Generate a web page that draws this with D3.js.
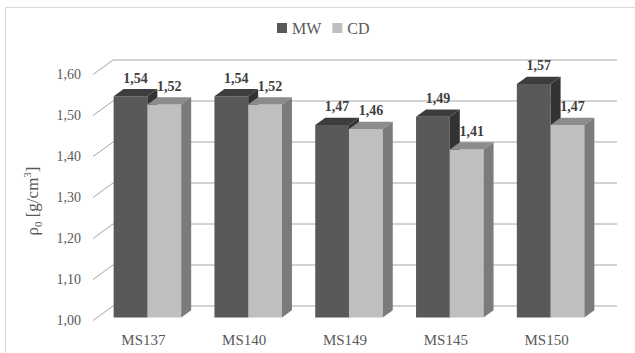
<!DOCTYPE html>
<html>
<head>
<meta charset="utf-8">
<script src="https://cdn.jsdelivr.net/npm/d3@7/dist/d3.min.js"></script>
<style>
  html, body { margin: 0; padding: 0; background: #ffffff; }
  svg { display: block; }
</style>
</head>
<body>
<svg id="chart" width="635" height="353" font-family="'Liberation Serif', Tinos, 'Times New Roman', 'DejaVu Serif', serif"></svg>
<script>
// Density per sample, two measuring methods
const categories = ["MS137", "MS140", "MS149", "MS145", "MS150"];
const seriesNames = ["MW", "CD"];
const mwValues = [1.54, 1.54, 1.47, 1.49, 1.57];
const cdValues = [1.52, 1.52, 1.46, 1.41, 1.47];
const yTicks = [1.00, 1.10, 1.20, 1.30, 1.40, 1.50, 1.60];

const seriesValues = { MW: mwValues, CD: cdValues };
const colors = {
  MW: { front: "#595959", top: "#3d3d3d", side: "#333333" },
  CD: { front: "#bfbfbf", top: "#8c8c8c", side: "#7b7b7b" }
};

const svg = d3.select("#chart");
const fmt = v => d3.format(".2f")(v).replace(".", ",");

// Oblique projection: depth z in [0,1] shifts right and up
const depth = { dx: 20, dy: -14.5 };
const proj = (x, y, z) => [x + depth.dx * z, y + depth.dy * z];
const zFront = 0.2, zBack = 0.7;

// Scales live in the front plane of the floor
const y = d3.scaleLinear().domain([1.0, 1.6]).range([320.5, 74.5]);
const x0 = d3.scaleBand().domain(categories).range([93, 597])
  .paddingInner(0.33).paddingOuter(0.165);
const x1 = d3.scaleBand().domain(seriesNames).range([0, x0.bandwidth()]);

// Outer chart frame
svg.append("rect")
  .attr("x", 5.5).attr("y", 7.5).attr("width", 660).attr("height", 400)
  .attr("fill", "none").attr("stroke", "#d9d9d9").attr("stroke-width", 1);

// Back-wall gridlines and the slanted side-wall ticks
const grid = svg.append("g").attr("stroke", "#a6a6a6").attr("stroke-width", 1).attr("fill", "none");
const xLeft = x0.range()[0], xRight = x0.range()[1];
yTicks.forEach(t => {
  const a = proj(xLeft, y(t), 0), b = proj(xLeft, y(t), 1), c = proj(xRight, y(t), 1);
  grid.append("path").attr("d", d3.line()([a, b, c]));
});

// Y tick labels
svg.append("g").selectAll("text").data(yTicks).join("text")
  .attr("x", 81).attr("y", d => y(d)).attr("dy", "0.35em")
  .attr("text-anchor", "end").attr("font-size", 14).attr("fill", "#595959")
  .text(d => fmt(d));

// Axis title
const title = svg.append("text")
  .attr("transform", "translate(38,201) rotate(-90)")
  .attr("text-anchor", "middle").attr("font-size", 17).attr("fill", "#595959");
title.append("tspan").text("ρ");
title.append("tspan").attr("font-size", 11).attr("dy", 4).text("0");
title.append("tspan").attr("dy", -4).text(" [g/cm");
title.append("tspan").attr("font-size", 11).attr("dy", -7).text("3");
title.append("tspan").attr("dy", 7).text("]");

// 3D bars
const bars = svg.append("g");
categories.forEach((cat, i) => {
  seriesNames.forEach(s => {
    const v = seriesValues[s][i];
    const xl = x0(cat) + x1(s), xr = xl + x1.bandwidth();
    const yt = y(v), yb = y(1.0);
    const c = colors[s];
    const line = d3.line();
    // front
    bars.append("path").attr("fill", c.front)
      .attr("d", line([proj(xl, yt, zFront), proj(xr, yt, zFront), proj(xr, yb, zFront), proj(xl, yb, zFront)]) + "Z");
    // top
    bars.append("path").attr("fill", c.top)
      .attr("d", line([proj(xl, yt, zFront), proj(xr, yt, zFront), proj(xr, yt, zBack), proj(xl, yt, zBack)]) + "Z");
    // right side
    bars.append("path").attr("fill", c.side)
      .attr("d", line([proj(xr, yt, zFront), proj(xr, yt, zBack), proj(xr, yb, zBack), proj(xr, yb, zFront)]) + "Z");
  });
});

// Value labels above each bar
const labels = svg.append("g");
categories.forEach((cat, i) => {
  seriesNames.forEach(s => {
    const v = seriesValues[s][i];
    const cx = x0(cat) + x1(s) + x1.bandwidth() / 2;
    const p = proj(cx, y(v), 0.45);
    labels.append("text")
      .attr("x", p[0]).attr("y", p[1] - 10)
      .attr("text-anchor", "middle").attr("font-size", 14).attr("font-weight", "bold")
      .attr("fill", "#404040").text(fmt(v));
  });
});

// Category labels
svg.append("g").selectAll("text").data(categories).join("text")
  .attr("x", d => x0(d) + x0.bandwidth() / 2).attr("y", 345)
  .attr("text-anchor", "middle").attr("font-size", 15).attr("fill", "#595959")
  .text(d => d);

// Legend
const legend = svg.append("g");
let lx = 277;
seriesNames.forEach(s => {
  legend.append("rect").attr("x", lx).attr("y", 23).attr("width", 10).attr("height", 10)
    .attr("fill", colors[s].front);
  const t = legend.append("text").attr("x", lx + 15).attr("y", 28).attr("dy", "0.35em")
    .attr("font-size", 16).attr("fill", "#595959").text(s);
  lx += 15 + t.node().getComputedTextLength() + 11;
});
</script>
</body>
</html>
